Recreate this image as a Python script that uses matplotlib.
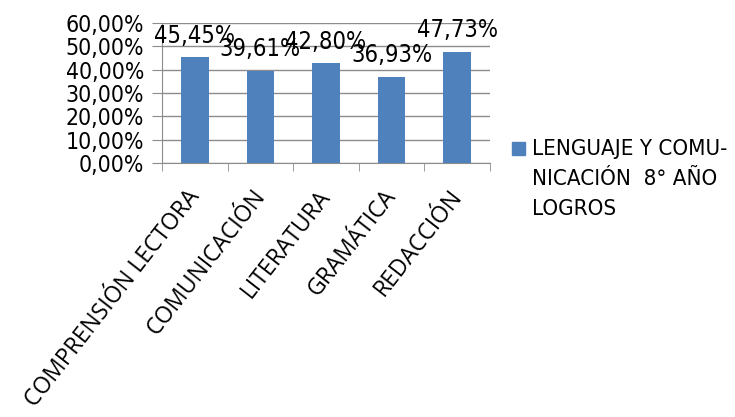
import matplotlib
matplotlib.use("Agg")
import matplotlib.pyplot as plt
import matplotlib.transforms as mtransforms
import numpy as np

categories = ["COMPRENSIÓN LECTORA", "COMUNICACIÓN", "LITERATURA", "GRAMÁTICA", "REDACCIÓN"]
values = [45.45, 39.61, 42.80, 36.93, 47.73]
series_name = "LENGUAJE Y COMU-\nNICACIÓN  8° AÑO\nLOGROS"
yticks = [0, 10, 20, 30, 40, 50, 60]
ytick_labels = ["0,00%", "10,00%", "20,00%", "30,00%", "40,00%", "50,00%", "60,00%"]
value_labels = ["45,45%", "39,61%", "42,80%", "36,93%", "47,73%"]

W, H = 735, 417
fig = plt.figure(figsize=(W/100, H/100), dpi=100)
ax = fig.add_axes([162/W, 1-163/H, (490-162)/W, (163-23)/H])

cond = dict(family="DejaVu Sans", stretch="condensed")
color = "#4F81BD"
grid = "#8C8C8C"

x = np.arange(len(categories))
ax.bar(x, values, width=0.42, color=color, zorder=3)
ax.set_xlim(-0.5, len(categories) - 0.5)
ax.set_ylim(0, 60)
ax.set_yticks(yticks)
ax.set_yticklabels(ytick_labels, fontsize=16.5, **cond)
ax.yaxis.grid(True, color=grid, linewidth=1.0, zorder=0)
for s in ["top", "right"]:
    ax.spines[s].set_visible(False)
for s in ["left", "bottom"]:
    ax.spines[s].set_color(grid)
ax.tick_params(axis="y", length=7, color=grid, pad=6)
ax.set_xticks(np.arange(len(categories) + 1) - 0.5, minor=True)
ax.set_xticks(x)
ax.set_xticklabels(categories, rotation=52, ha="right", va="top", rotation_mode="anchor",
                   fontsize=16.5, family="Open Sans")
ax.tick_params(axis="x", which="major", length=0, pad=16)
ax.tick_params(axis="x", which="minor", length=6, color=grid)
offset = mtransforms.ScaledTranslation(-9/100, 0, fig.dpi_scale_trans)
for lab in ax.get_xticklabels():
    lab.set_transform(lab.get_transform() + offset)

for xi, v, lab in zip(x, values, value_labels):
    ax.text(xi, v + 4.0, lab, ha="center", va="bottom", fontsize=17, **cond, zorder=4)

# legend
fig.patches.append(plt.Rectangle((512/W, 1-155/H), 13/W, 13/H, color=color, transform=fig.transFigure))
fig.text(532/W, 1-139/H, series_name, ha="left", va="top", fontsize=16, linespacing=1.62, **cond)

fig.savefig("out.png", dpi=100)
